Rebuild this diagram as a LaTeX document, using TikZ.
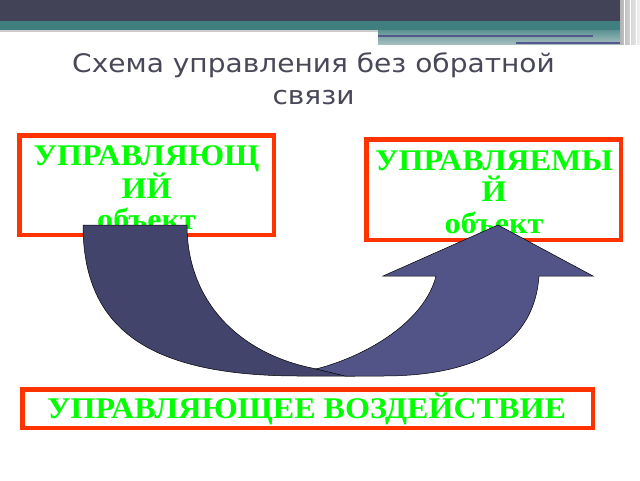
\documentclass[tikz,border=0pt]{standalone}
\usepackage{fontspec}
\setmainfont{Liberation Serif}
\newfontfamily\boxfont[FakeStretch=1.07]{Liberation Serif}
\newfontfamily\titlefont[FakeStretch=1.1]{DejaVu Sans}
\usepackage{tikz}

\definecolor{bandDark}{RGB}{67,67,88}
\definecolor{bandTeal}{RGB}{63,127,128}
\definecolor{bandPale}{RGB}{128,164,164}
\definecolor{bandLine}{RGB}{85,87,143}
\definecolor{titleGray}{RGB}{72,72,88}
\definecolor{boxRed}{RGB}{255,51,0}
\definecolor{boxGreen}{RGB}{0,255,0}
\definecolor{arrowBack}{RGB}{67,68,108}
\definecolor{arrowFront}{RGB}{82,84,136}

\tikzset{
  framebox/.style={draw=boxRed, line width=4.5pt, inner sep=0pt},
  boxtext/.style={text=boxGreen, font=\boxfont\fontsize{30}{31.5}\selectfont\bfseries, align=center, inner sep=0pt},
  arrowpart/.style={draw=black, line width=0.5pt},
}

\begin{document}
\begin{tikzpicture}[x=1pt,y=-1pt]
        \useasboundingbox (0,0) rectangle (640,480);

        %Shape: header bands
        \fill [bandDark] (0,0) rectangle (640,21) ;
        \fill [bandTeal] (0,21) rectangle (640,30) ;
        \fill [gray!40] (0,30) rectangle (378,31.5) ;
        \shade [top color=bandTeal!85, bottom color=bandPale!70] (378,30) rectangle (628,44.5) ;
        %Straight Lines: header rules
        \draw [bandLine, line width=2.5pt] (378,36) -- (593,36) ;
        \draw [bandLine, line width=2.5pt] (516,43) -- (628,43) ;
        %Shape: right edge stripes
        \shade [left color=gray!60, right color=white!90!gray] (620,0) rectangle (640,44.5) ;
        \draw [white, line width=0.8pt] (624,0) -- (624,44.5) (630,0) -- (630,44.5) (636,0) -- (636,44.5) ;

        % Text Node
        \node [anchor=north, inner sep=0pt, text=titleGray, align=center, font=\titlefont\fontsize{25.5}{32}\selectfont] (title) at (313.5,52.5) {Схема управления без обратной\\связи};

        %Shape: boxes
        \node [framebox, minimum width=254.5, minimum height=99.5] (source) at (146.5,185) {};
        \node [framebox, minimum width=254.5, minimum height=100.5] (target) at (493.5,189.5) {};
        \node [framebox, minimum width=570.5, minimum height=38.5] (action) at (307.5,408.5) {};

        % Text Node
        \node [boxtext, anchor=north] (sourcetext) at (146.5,145) {УПРАВЛЯЮЩ\\ИЙ\\объект};
        % Text Node
        \node [boxtext, anchor=north] (targettext) at (494,150) {УПРАВЛЯЕМЫ\\Й\\объект};
        % Text Node
        \node [boxtext, anchor=base] (actiontext) at (306.5,418) {УПРАВЛЯЮЩЕЕ ВОЗДЕЙСТВИЕ};

        %Shape: curved arrow, back part
        \draw [arrowpart, fill=arrowBack] (83,225) -- (187,225) .. controls (187,302) and (240,355) .. (317,369) -- (355,376) -- (300,376) .. controls (150,376) and (83,330) .. (83,225) -- cycle ;
        %Shape: curved arrow, front part
        \draw [arrowpart, fill=arrowFront] (316,369) .. controls (370,355) and (425,320) .. (436,276) -- (383,276) -- (498,225) -- (593,276) -- (539,276) .. controls (535,335) and (490,376) .. (383,376) -- (345,376) -- cycle ;

\end{tikzpicture}
\end{document}
